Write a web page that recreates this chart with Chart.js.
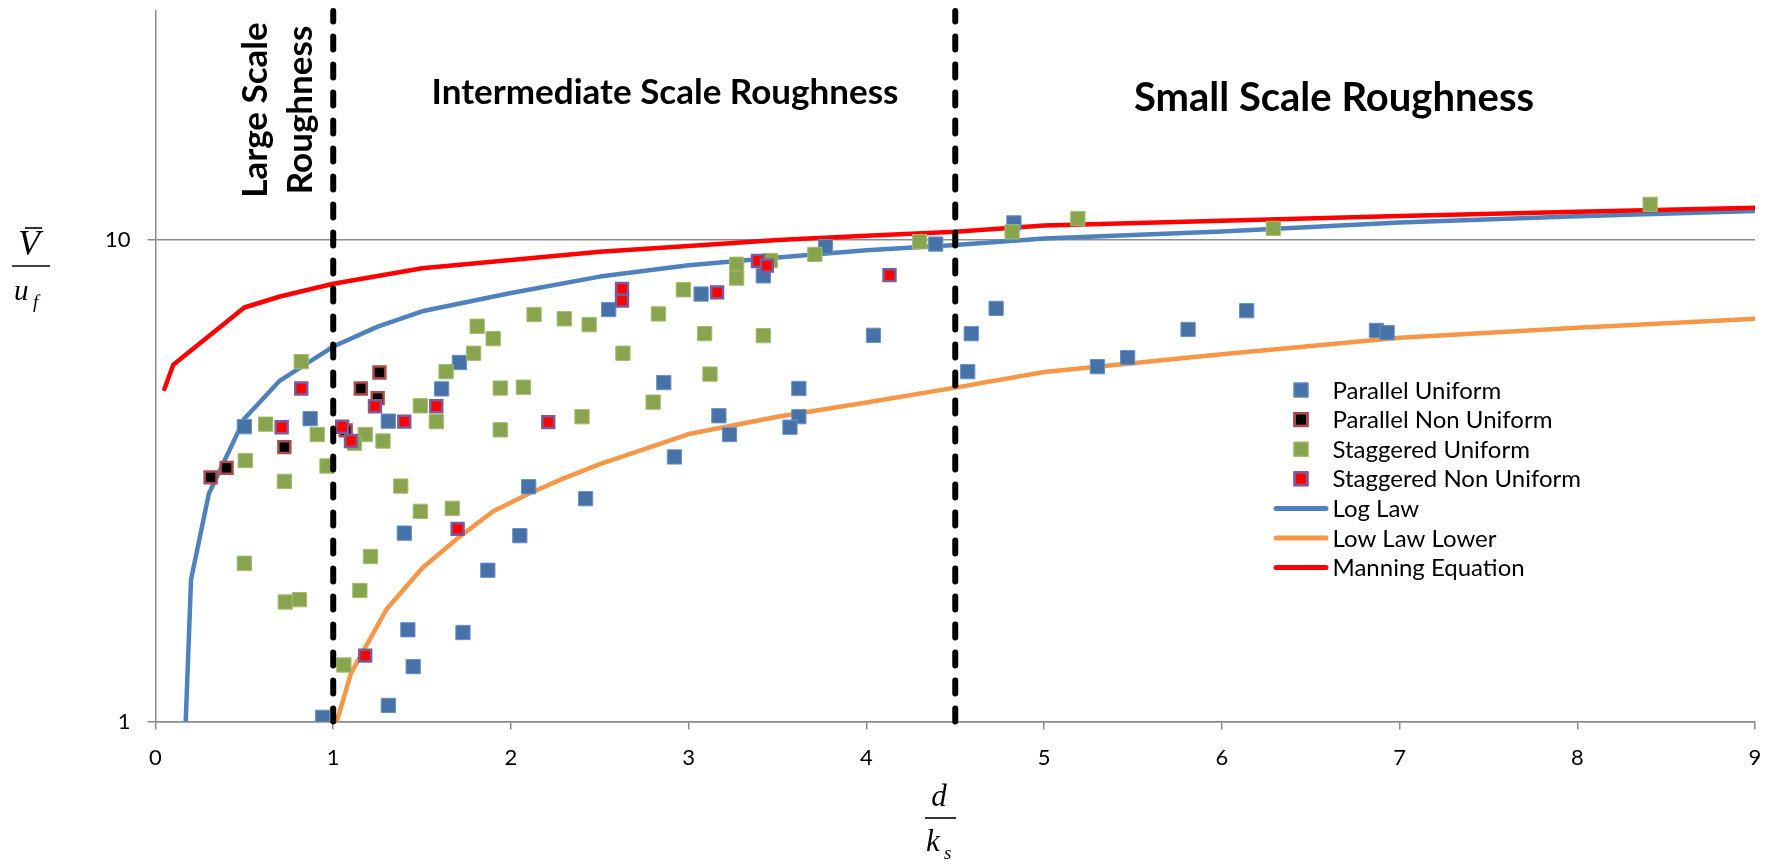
<!DOCTYPE html>
<html>
<head>
<meta charset="utf-8">
<script src="https://cdn.jsdelivr.net/npm/chart.js@4.4.1/dist/chart.umd.min.js"></script>
<style>
  html, body { margin: 0; padding: 0; background: #fff; }
  #wrap { width: 1785px; height: 864px; }
</style>
</head>
<body>
<div id="wrap"><canvas id="chart" width="1785" height="864"></canvas></div>
<script>
// ---- data ----
const parUniformX = [0.50, 0.87, 1.31, 1.61, 1.71, 2.10, 0.94, 1.31, 1.40, 1.42, 1.45, 1.73, 1.87, 2.05, 2.55, 3.07, 3.42, 3.77, 4.39, 4.04, 4.59, 4.57, 2.86, 3.62, 3.17, 3.62, 3.57, 3.23, 2.92, 2.42, 4.83, 4.73, 5.30, 5.47, 5.81, 6.14, 6.87, 6.93];
const parUniformY = [4.09, 4.25, 4.20, 4.90, 5.56, 3.07, 1.02, 1.08, 2.46, 1.55, 1.30, 1.53, 2.06, 2.43, 7.16, 7.71, 8.41, 9.67, 9.79, 6.33, 6.38, 5.32, 5.05, 4.91, 4.31, 4.29, 4.08, 3.94, 3.54, 2.90, 10.83, 7.20, 5.45, 5.69, 6.51, 7.12, 6.48, 6.41];

const parNonUniformX = [0.31, 0.40, 0.725, 1.07, 1.155, 1.25, 1.26];
const parNonUniformY = [3.21, 3.36, 3.71, 4.02, 4.91, 4.69, 5.30];

const stagUniformX = [0.82, 0.62, 0.505, 0.725, 0.91, 0.965, 1.18, 1.28, 1.38, 1.49, 1.67, 1.49, 1.58, 1.635, 1.79, 1.81, 1.90, 1.94, 2.07, 1.94, 2.13, 2.30, 0.50, 0.73, 0.81, 1.06, 1.15, 1.21, 2.40, 2.44, 2.63, 2.83, 2.97, 3.09, 3.12, 2.80, 3.27, 3.27, 3.46, 3.42, 3.71, 4.30, 4.82, 5.19, 6.29, 8.41, 1.12];
const stagUniformY = [5.58, 4.14, 3.48, 3.15, 3.94, 3.39, 3.94, 3.82, 3.08, 2.73, 2.77, 4.52, 4.19, 5.32, 5.81, 6.61, 6.23, 4.92, 4.94, 4.03, 6.99, 6.85, 2.13, 1.77, 1.79, 1.31, 1.87, 2.20, 4.29, 6.66, 5.81, 7.01, 7.87, 6.38, 5.26, 4.60, 8.89, 8.32, 9.05, 6.32, 9.32, 9.90, 10.38, 11.06, 10.55, 11.84, 3.78];

const stagNonUniformX = [0.82, 0.71, 1.05, 1.10, 1.235, 1.40, 1.58, 2.21, 1.18, 1.70, 2.625, 2.625, 3.16, 3.39, 3.44, 4.13];
const stagNonUniformY = [4.91, 4.08, 4.09, 3.82, 4.51, 4.19, 4.51, 4.18, 1.37, 2.51, 7.90, 7.47, 7.77, 9.03, 8.83, 8.44];

const logLawX = [0.17, 0.2, 0.3, 0.5, 0.7, 1, 1.25, 1.5, 2, 2.5, 3, 3.5, 4, 4.5, 5, 6, 7, 8, 9];
const logLawY = [1.0, 1.97, 2.97, 4.25, 5.1, 6.0, 6.6, 7.1, 7.75, 8.38, 8.85, 9.18, 9.5, 9.75, 10.05, 10.4, 10.85, 11.18, 11.47];

const lowLawX = [1.02, 1.1, 1.3, 1.5, 1.7, 1.9, 2.1, 2.3, 2.5, 3, 3.5, 4, 4.5, 5, 6, 7, 8, 9];
const lowLawY = [1.0, 1.26, 1.71, 2.08, 2.40, 2.73, 2.97, 3.2, 3.42, 3.95, 4.29, 4.59, 4.93, 5.31, 5.78, 6.26, 6.56, 6.85];

const manningX = [0.05, 0.1, 0.5, 0.7, 1, 1.5, 2, 2.5, 3, 3.5, 4, 4.5, 5, 6, 7, 8, 9];
const manningY = [4.9, 5.5, 7.23, 7.62, 8.1, 8.72, 9.07, 9.44, 9.7, 9.98, 10.19, 10.38, 10.7, 10.94, 11.2, 11.43, 11.65];

// region boundaries (d/ks) and the y span they cover
const boundaryX = [1, 4.5];
const boundaryY = [1, 29.8];

const xTicks = [0, 1, 2, 3, 4, 5, 6, 7, 8, 9];
const yTicks = [1, 10];

const regionLabels = ['Large Scale', 'Roughness', 'Intermediate Scale Roughness', 'Small Scale Roughness'];

function pts(xs, ys) {
    return xs.map((x, i) => ({ x: x, y: ys[i] }));
}

const FONT = 'Lato, "Noto Sans", sans-serif';
const GREY = '#8c8c8c';

function markerSet(label, xs, ys, fill, border, bw, r, order) {
    return {
        label: label, data: pts(xs, ys), showLine: false,
        pointStyle: 'rect', pointRadius: r, pointHoverRadius: r,
        backgroundColor: fill, borderColor: border, pointBorderWidth: bw,
        order: order, legendKind: 'marker'
    };
}

function lineSet(label, xs, ys, color, order) {
    return {
        label: label, data: pts(xs, ys), showLine: true,
        borderColor: color, backgroundColor: color, borderWidth: 4.5,
        pointRadius: 0, pointHoverRadius: 0, tension: 0,
        borderCapStyle: 'round', borderJoinStyle: 'round',
        order: order, legendKind: 'line'
    };
}

function boundarySet(x) {
    return {
        label: '', data: pts([x, x], boundaryY), showLine: true,
        borderColor: '#000', borderWidth: 6, borderDash: [13, 15],
        borderCapStyle: 'round', pointRadius: 0, order: 0, clip: 6
    };
}

const datasets = [
    markerSet('Parallel Uniform', parUniformX, parUniformY, '#4672A8', '#6A93C6', 1, 10.1, 4),
    markerSet('Parallel Non Uniform', parNonUniformX, parNonUniformY, '#000000', '#AE4A47', 2.5, 8.4, 3),
    markerSet('Staggered Uniform', stagUniformX, stagUniformY, '#88A44E', '#A3BE6A', 1, 10.1, 2),
    markerSet('Staggered Non Uniform', stagNonUniformX, stagNonUniformY, '#FF0000', '#7A5C9C', 2.5, 8.4, 1),
    lineSet('Log Law', logLawX, logLawY, '#4F81BD', 7),
    lineSet('Low Law Lower', lowLawX, lowLawY, '#F79646', 6),
    lineSet('Manning Equation', manningX, manningY, '#FF0000', 5),
    boundarySet(boundaryX[0]),
    boundarySet(boundaryX[1])
];

// text, axis titles and the legend
const overlay = {
    id: 'overlay',
    afterDraw(chart) {
        const ctx = chart.ctx;
        ctx.save();
        ctx.fillStyle = '#000';
        ctx.textBaseline = 'alphabetic';

        // region labels
        ctx.textAlign = 'center';
        ctx.font = 'bold 35px ' + FONT;
        ctx.fillText(regionLabels[2], 665, 104);
        ctx.font = 'bold 40px ' + FONT;
        ctx.fillText(regionLabels[3], 1334, 111);
        ctx.save();
        ctx.translate(267, 110);
        ctx.rotate(-Math.PI / 2);
        ctx.font = 'bold 35px ' + FONT;
        ctx.fillText(regionLabels[0], 0, 0);
        ctx.fillText(regionLabels[1], 0, 45);
        ctx.restore();

        // y title  V-bar / u_f
        const serif = '"Liberation Serif", "DejaVu Serif", serif';
        ctx.strokeStyle = '#000';
        ctx.lineWidth = 1.6;
        ctx.textAlign = 'center';
        ctx.font = 'italic 36px ' + serif;
        ctx.fillText('V', 29, 255);
        ctx.beginPath(); ctx.moveTo(25, 228); ctx.lineTo(42, 228); ctx.stroke();
        ctx.beginPath(); ctx.moveTo(12, 266); ctx.lineTo(50, 266); ctx.stroke();
        ctx.textAlign = 'left';
        ctx.font = 'italic 29px ' + serif;
        ctx.fillText('u', 14, 300);
        ctx.font = 'italic 19px ' + serif;
        ctx.fillText('f', 33, 308);

        // x title  d / k_s
        ctx.textAlign = 'center';
        ctx.font = 'italic 31px ' + serif;
        ctx.fillText('d', 939, 806);
        ctx.beginPath(); ctx.moveTo(925, 818); ctx.lineTo(956, 818); ctx.stroke();
        ctx.textAlign = 'left';
        ctx.fillText('k', 926, 851);
        ctx.font = 'italic 19px ' + serif;
        ctx.fillText('s', 944, 859);

        // legend
        let rowY = 390;
        ctx.font = '24px ' + FONT;
        chart.data.datasets.forEach(ds => {
            if (!ds.legendKind) return;
            if (ds.legendKind === 'marker') {
                ctx.fillStyle = ds.backgroundColor;
                ctx.fillRect(1293.5, rowY - 7.5, 15, 15);
                ctx.strokeStyle = ds.borderColor;
                ctx.lineWidth = ds.pointBorderWidth;
                const inset = ds.pointBorderWidth / 2;
                ctx.strokeRect(1293.5 + inset, rowY - 7.5 + inset, 15 - 2 * inset, 15 - 2 * inset);
            } else {
                ctx.strokeStyle = ds.borderColor;
                ctx.lineWidth = 5;
                ctx.lineCap = 'round';
                ctx.beginPath(); ctx.moveTo(1276, rowY); ctx.lineTo(1326, rowY); ctx.stroke();
            }
            ctx.fillStyle = '#000';
            ctx.textAlign = 'left';
            ctx.fillText(ds.label, 1332.5, rowY + 8.5);
            rowY += 29.6;
        });
        ctx.restore();
    }
};

new Chart(document.getElementById('chart'), {
    type: 'scatter',
    data: { datasets: datasets },
    plugins: [overlay],
    options: {
        responsive: false,
        animation: false,
        layout: { padding: { top: 6, right: 30, left: 0, bottom: 0 } },
        plugins: {
            legend: { display: false },
            tooltip: { enabled: false }
        },
        scales: {
            x: {
                type: 'linear', min: 0, max: 9,
                afterBuildTicks: s => { s.ticks = xTicks.map(v => ({ value: v })); },
                afterFit: s => { s.height = 142.5; },
                ticks: { color: '#000', font: { family: FONT, size: 22 }, padding: 15, maxRotation: 0 },
                grid: { drawOnChartArea: false, tickLength: 8, tickColor: GREY, lineWidth: 1.5 },
                border: { color: GREY, width: 1.5 }
            },
            y: {
                type: 'logarithmic', min: 1, max: 29.8,
                afterBuildTicks: s => { s.ticks = yTicks.map(v => ({ value: v })); },
                afterFit: s => { s.width = 155.5; s.paddingTop = 0; s.paddingBottom = 0; },
                ticks: { color: '#000', font: { family: FONT, size: 22 }, padding: 17, callback: v => String(v) },
                grid: { color: GREY, lineWidth: 1.5, tickLength: 8, tickColor: GREY },
                border: { color: GREY, width: 1.5 }
            }
        }
    }
});
</script>
</body>
</html>
